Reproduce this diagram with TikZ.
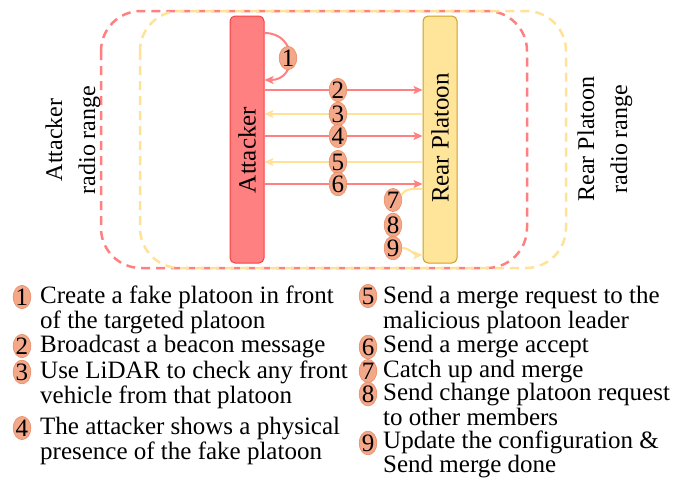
\documentclass[tikz,border=0pt]{standalone}
\usepackage{fontspec}
\setmainfont{Liberation Serif}
\usetikzlibrary{arrows.meta,shapes.geometric}

\definecolor{atkred}{RGB}{255,128,128}
\definecolor{atkborder}{RGB}{250,64,64}
\definecolor{rearfill}{RGB}{255,229,153}
\definecolor{rearborder}{RGB}{205,160,40}
\definecolor{rangeyellow}{RGB}{255,226,150}
\definecolor{numfill}{RGB}{244,168,138}
\definecolor{numborder}{RGB}{232,140,100}

\begin{document}
\begin{tikzpicture}[x=1pt,y=-1pt,
  font=\fontsize{25}{25}\selectfont,
  radiozone/.style={dash pattern=on 9pt off 6pt, line width=2.5pt, rounded corners=40pt},
  vehicle/.style={rectangle, line width=1pt, rounded corners=5pt,
    minimum width=34pt, minimum height=247pt, inner sep=0pt},
  num/.style={ellipse, fill=numfill, draw=numborder, line width=0.6pt, text=black,
    inner sep=0pt, minimum width=17pt, minimum height=20pt},
  tipstyle/.style={-{Stealth[length=9pt,width=8pt,inset=2pt]}},
  msgred/.style={atkred, line width=2pt, tipstyle},
  msgyel/.style={rangeyellow, line width=2pt, tipstyle},
  legtext/.style={align=left, anchor=base west, inner sep=0pt},
  rangelabel/.style={rotate=90, align=center, font=\fontsize{24}{33}\selectfont}]

  \useasboundingbox (0,0) rectangle (675,482);

  % radio ranges
  \draw[radiozone, atkred] (101,11) rectangle (527,268);
  \draw[radiozone, rangeyellow] (140,11) rectangle (566,268);
  \node[rangelabel] (atkrange) at (73,140) {Attacker\\radio range};
  \node[rangelabel] (rearrange) at (605,139) {Rear Platoon\\radio range};

  % vehicles
  \node[vehicle, fill=atkred, draw=atkborder] (atk) at (247,139.5) {};
  \node[rotate=90] (atklabel) at (247,150) {Attacker};
  \node[vehicle, fill=rearfill, draw=rearborder] (rear) at (440,139.5) {};
  \node[rotate=90] (rearlabel) at (440,138) {Rear Platoon};

  % step 1: self loop on the attacker
  \draw[msgred] (atk.east |- 0,33) .. controls (298,33) and (298,80) .. (atk.east |- 0,80);
  \node[num] (m1) at (288,58) {1};

  % steps 2-6: messages between attacker and rear platoon
  \draw[msgred] (atk.east |- 0,90) -- (rear.west |- 0,90) node[num, pos=0.465] (m2) {2};
  \draw[msgyel] (rear.west |- 0,114) -- (atk.east |- 0,114) node[num, pos=0.535] (m3) {3};
  \draw[msgred] (atk.east |- 0,136) -- (rear.west |- 0,136) node[num, pos=0.465] (m4) {4};
  \draw[msgyel] (rear.west |- 0,162) -- (atk.east |- 0,162) node[num, pos=0.535] (m5) {5};
  \draw[msgred] (atk.east |- 0,184) -- (rear.west |- 0,184) node[num, pos=0.465] (m6) {6};

  % steps 7-9 at the rear platoon
  \node[num] (m7) at (393,200) {7};
  \node[num] (m8) at (393,225) {8};
  \node[num] (m9) at (393,248) {9};
  \draw[rangeyellow, line width=2pt] (m7.30) to[out=60,in=180] (rear.west |- 0,189);
  \draw[msgyel] (m9.east) to[out=0,in=180] (rear.west |- 0,255);

  % legend, left column (anchored at the baseline of the last line)
  \node[num] (n1) at (22,297) {1};
  \node[legtext] (t1) at (40,328) {Create a fake platoon in front\\of the targeted platoon};
  \node[num] (n2) at (22,346) {2};
  \node[legtext] (t2) at (40,352) {Broadcast a beacon message};
  \node[num] (n3) at (22,372) {3};
  \node[legtext] (t3) at (40,403) {Use LiDAR to check any front\\vehicle from that platoon};
  \node[num] (n4) at (22,428) {4};
  \node[legtext] (t4) at (40,459) {The attacker shows a physical\\presence of the fake platoon};

  % legend, right column
  \node[num] (n5) at (368,296) {5};
  \node[legtext] (t5) at (383,328) {Send a merge request to the\\malicious platoon leader};
  \node[num] (n6) at (368,347) {6};
  \node[legtext] (t6) at (383,352) {Send a merge accept};
  \node[num] (n7) at (368,371) {7};
  \node[legtext] (t7) at (383,377) {Catch up and merge};
  \node[num] (n8) at (368,394) {8};
  \node[legtext] (t8) at (383,425) {Send change platoon request\\to other members};
  \node[num] (n9) at (368,443) {9};
  \node[legtext, font=\fontsize{25}{24}\selectfont] (t9) at (383,472) {Update the configuration \&\\Send merge done};
\end{tikzpicture}
\end{document}
